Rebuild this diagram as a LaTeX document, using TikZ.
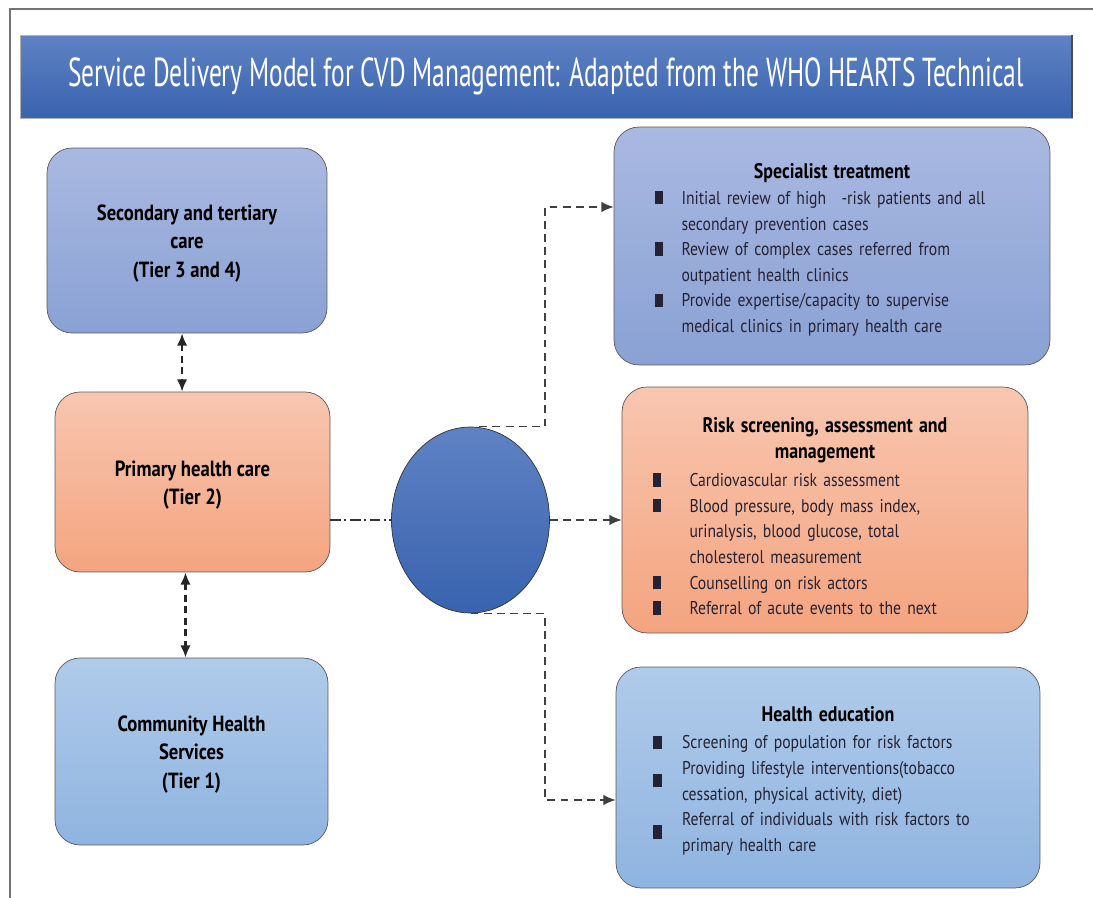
\documentclass[tikz,border=0pt]{standalone}
\usepackage{fontspec}
\usepackage{array}
\setmainfont{PT Sans}[FakeStretch=0.85]
\newfontfamily\bannerfont{PT Sans}[FakeStretch=0.63]
\usetikzlibrary{arrows.meta,shapes.geometric,positioning}

\definecolor{bandtop}{HTML}{5F82C4}
\definecolor{bandbot}{HTML}{3863AE}
\definecolor{violettop}{HTML}{A9B9E1}
\definecolor{violetbot}{HTML}{8AA1D4}
\definecolor{peachtop}{HTML}{F8C6B0}
\definecolor{peachbot}{HTML}{F4A47F}
\definecolor{skytop}{HTML}{B0CBEA}
\definecolor{skybot}{HTML}{8FB4E0}
\definecolor{listtext}{HTML}{252233}

% square bullet, list columns, and a strut that pushes text down a little
\newcommand{\sqb}{\rule[0pt]{5pt}{7.6pt}}
\newcommand{\lift}[1]{\rule{0pt}{#1}}
\newcolumntype{L}[1]{>{\raggedright\arraybackslash}p{#1}}
\newcolumntype{M}[1]{>{\raggedright\arraybackslash}m{#1}}

\begin{document}
\begin{tikzpicture}[
    x=0.02cm, y=-0.02cm,
    >={Latex[length=7pt,width=6pt]},
    % boxes
    base/.style={rectangle, rounded corners=5mm, draw=black!65, thin, align=center},
    tier/.style={base, font=\fontsize{12.5}{16}\selectfont\bfseries},
    task/.style={base, inner sep=0pt, font=\fontsize{10.5}{14.6}\selectfont},
    violet/.style={top color=violettop, bottom color=violetbot},
    peach/.style={top color=peachtop, bottom color=peachbot},
    sky/.style={top color=skytop, bottom color=skybot},
    % arrows
    tierlink/.style={black!85, line width=1.5pt, dash pattern=on 4pt off 2.5pt},
    hub/.style={black!75, line width=0.9pt, dash pattern=on 4.5pt off 3pt},
    hubin/.style={black!80, line width=0.8pt, dash pattern=on 6pt off 2pt on 1.2pt off 2pt}
  ]

  \useasboundingbox (0,0) rectangle (1093,898);

  % page frame
  \draw[black!55, line width=1.1pt] (10,898) -- (10,9) -- (1093,9);

  % banner
  \node (banner) [rectangle, minimum width=21.04cm, minimum height=1.66cm,
                  top color=bandtop, bottom color=bandbot, draw=black!30, thin,
                  text=white, font=\bannerfont\fontsize{23}{26}\selectfont]
        at (546,76.5) {Service Delivery Model for CVD Management: Adapted from the WHO HEARTS Technical};
  \draw[black!70, line width=1.2pt] (banner.north east) -- (banner.south east);

  % tiers
  \node (sec)  [tier, violet, minimum width=5.6cm,  minimum height=3.7cm]  at (187,240.5)
        {\lift{12.4pt}Secondary and tertiary\\care\\(Tier 3 and 4)};
  \node (prim) [tier, peach,  minimum width=5.5cm,  minimum height=3.6cm]  at (192.5,482)
        {\lift{12.4pt}Primary health care\\(Tier 2)};
  \node (comm) [tier, sky,    minimum width=5.46cm, minimum height=3.74cm] at (191.5,751.5)
        {\lift{12.4pt}Community Health\\Services\\(Tier 1)};

  \node (hubnode) [ellipse, minimum width=3.16cm, minimum height=3.72cm, draw=black!80, thin,
                   top color=bandtop, bottom color=bandbot] at (470.5,520) {};

  % services
  \node (spec) [task, violet, minimum width=8.72cm, minimum height=4.76cm, text width=7.1cm]
        at (832,246)
        {\lift{15.4pt}{\fontsize{12}{16}\selectfont\bfseries Specialist treatment}\\[1pt]
         \color{listtext}%
         \begin{tabular}{@{}L{0.54cm}@{}L{6.56cm}@{}}
           \sqb & Initial review of high \enspace -risk patients and all\newline secondary prevention cases\\
           \sqb & Review of complex cases referred from\newline outpatient health clinics\\
           \sqb & Provide expertise/capacity to supervise\newline medical clinics in primary health care
         \end{tabular}};

  \node (risk) [task, peach, minimum width=8.12cm, minimum height=4.92cm, text width=6.9cm]
        at (825,510)
        {\lift{20pt}{\fontsize{12}{16.5}\selectfont\bfseries Risk screening, assessment and\\management}\\[2.3pt]
         \color{listtext}%
         \begin{tabular}{@{}L{0.74cm}@{}L{6.16cm}@{}}
           \sqb & Cardiovascular risk assessment\\
           \sqb & Blood pressure, body mass index,\newline urinalysis, blood glucose, total\newline cholesterol measurement\\
           \sqb & Counselling on risk actors\\
           \sqb & Referral of acute events to the next
         \end{tabular}};

  \node (educ) [task, sky, minimum width=8.48cm, minimum height=4.42cm, text width=7.0cm]
        at (828,777.5)
        {\lift{14.8pt}{\fontsize{12}{16}\selectfont\bfseries Health education}\\[4pt]
         \color{listtext}%
         \begin{tabular}{@{}M{0.58cm}@{}M{6.42cm}@{}}
           \sqb & Screening of population for risk factors\\
           \sqb & Providing lifestyle interventions(tobacco\newline cessation, physical activity, diet)\\
           \sqb & Referral of individuals with risk factors to\newline primary health care
         \end{tabular}};

  % links between tiers
  \draw[<->, tierlink] ([xshift=-2.8pt]sec.south) -- ([xshift=-2.8pt]sec.south |- prim.north);
  \draw[<->, tierlink] ([xshift=-4pt]prim.south) -- ([xshift=-4pt]prim.south |- comm.north);

  % links out of the hub
  \coordinate (upper) at (545,207);
  \coordinate (lower) at (545,800);
  \draw[hubin] (prim.east |- hubnode.west) -- (hubnode.west);
  \draw[->, hub] ([xshift=5pt]hubnode.north) -| (upper) -- (upper -| spec.west);
  \draw[->, hub] (hubnode.east) -- (hubnode.east -| risk.west);
  \draw[->, hub] (hubnode.south) -| (lower) -- (lower -| educ.west);
\end{tikzpicture}
\end{document}
